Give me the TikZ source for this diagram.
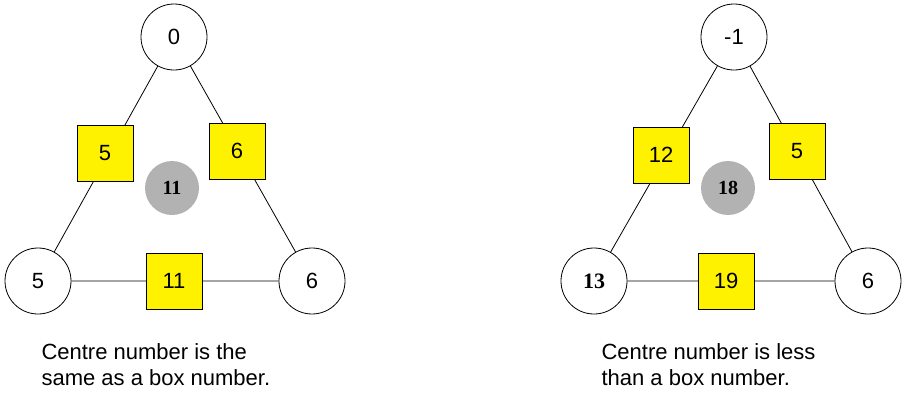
\documentclass[tikz,border=0pt]{standalone}
\usepackage{fontspec}
\setmainfont{Liberation Sans}
\newfontfamily\numserif{Liberation Serif}
\begin{document}
\begin{tikzpicture}
		[
		x=1pt, y=-1pt, font=\fontsize{22}{26}\selectfont,
		ring/.style={circle, draw, thick, fill=white, minimum size=66pt, inner sep=0pt},
		ybox/.style={rectangle, draw, thick, fill=yellow, minimum size=56pt, inner sep=0pt},
		centre/.style={circle, fill=gray!60, minimum size=54pt, inner sep=0pt, font=\fontsize{20}{24}\selectfont\numserif\bfseries}
		]
		\useasboundingbox (0,0) rectangle (910,418);
		
		%linkes Dreieck
		\node[ring] (lt) at (174,37) {0};
		\node[ring] (ll) at (38,281) {5};
		\node[ring] (lr) at (312,281) {6};
		\draw[thick] (lt) -- (ll) -- (lr) -- (lt);
		\node[ybox] (la) at (105,153) {5};
		\node[ybox] (lb) at (237,151) {6};
		\node[ybox] (lc) at (174,281) {11};
		\node[centre] (lm) at (172,188) {11};
		\node[align=left, anchor=north west] (ltext) at (38,340) {Centre number is the\\same as a box number.};
		
		%rechtes Dreieck
		\node[ring] (rt) at (734,37) {-1};
		\node[ring, font=\fontsize{22}{26}\selectfont\numserif\bfseries] (rl) at (594,281) {13};
		\node[ring] (rr) at (868,281) {6};
		\draw[thick] (rt) -- (rl) -- (rr) -- (rt);
		\node[ybox] (ra) at (661,155) {12};
		\node[ybox] (rb) at (797,151) {5};
		\node[ybox] (rc) at (726,281) {19};
		\node[centre] (rm) at (728,188) {18};
		\node[align=left, anchor=north west] (rtext) at (598,340) {Centre number is less\\than a box number.};
		
	\end{tikzpicture}
\end{document}
